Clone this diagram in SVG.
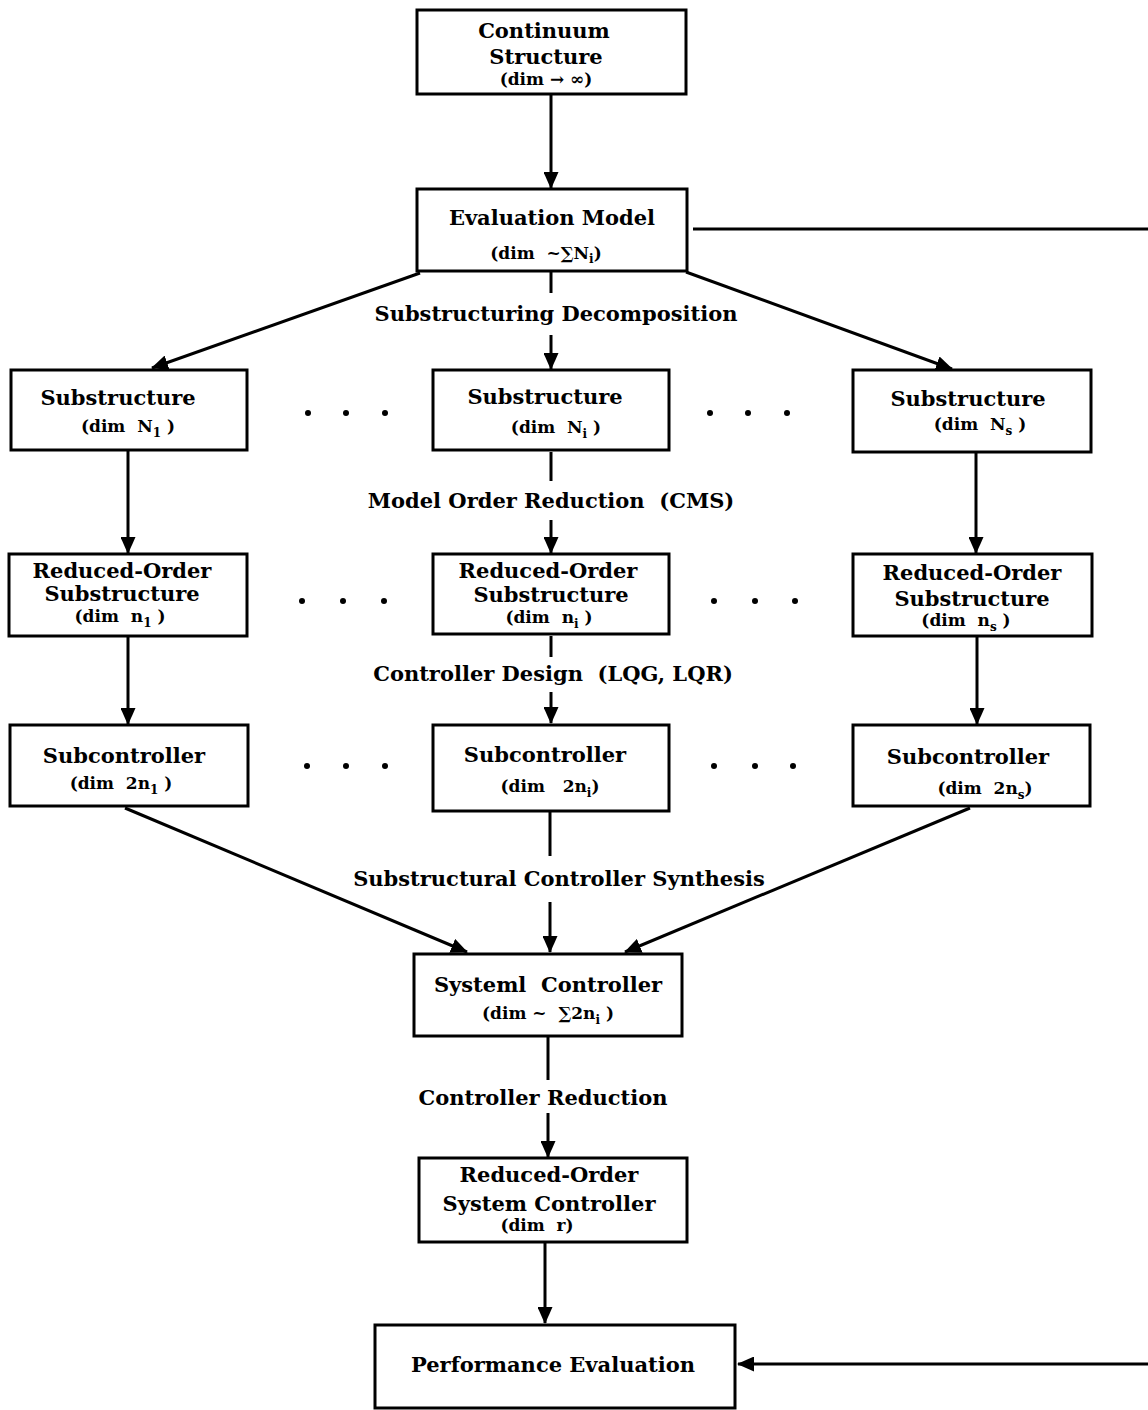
<svg xmlns="http://www.w3.org/2000/svg" width="1148" height="1410" viewBox="0 0 1148 1410">
<style>
text{font-family:"DejaVu Serif","Liberation Serif",serif;font-weight:bold;fill:#000;text-anchor:middle;white-space:pre}
.t{font-size:21px}
.d{font-size:17px}
.s{font-size:12px}
.box{fill:#fff;stroke:#000;stroke-width:3}
.ln{fill:none;stroke:#000;stroke-width:3}
</style>
<defs>
<marker id="ah" markerWidth="17" markerHeight="15" refX="16" refY="7.5" orient="auto" markerUnits="userSpaceOnUse">
<path d="M0,0 L17,7.5 L0,15 Z" fill="#000"/>
</marker>
</defs>
<g id="connectors">
<line class="ln" x1="551" y1="94" x2="551" y2="188" marker-end="url(#ah)"/>
<line class="ln" x1="693" y1="229" x2="1148" y2="229"/>
<line class="ln" x1="420" y1="273" x2="152" y2="368" marker-end="url(#ah)"/>
<line class="ln" x1="686" y1="272" x2="952" y2="369" marker-end="url(#ah)"/>
<line class="ln" x1="551" y1="271" x2="551" y2="293"/>
<line class="ln" x1="551" y1="335" x2="551" y2="369" marker-end="url(#ah)"/>
<line class="ln" x1="128" y1="450" x2="128" y2="553" marker-end="url(#ah)"/>
<line class="ln" x1="551" y1="452" x2="551" y2="481"/>
<line class="ln" x1="551" y1="520" x2="551" y2="553" marker-end="url(#ah)"/>
<line class="ln" x1="976" y1="452" x2="976" y2="553" marker-end="url(#ah)"/>
<line class="ln" x1="128" y1="636" x2="128" y2="724" marker-end="url(#ah)"/>
<line class="ln" x1="551" y1="636" x2="551" y2="657"/>
<line class="ln" x1="551" y1="692" x2="551" y2="723" marker-end="url(#ah)"/>
<line class="ln" x1="977" y1="636" x2="977" y2="724" marker-end="url(#ah)"/>
<line class="ln" x1="125" y1="808" x2="467" y2="952" marker-end="url(#ah)"/>
<line class="ln" x1="970" y1="808" x2="625" y2="952" marker-end="url(#ah)"/>
<line class="ln" x1="550" y1="812" x2="550" y2="856"/>
<line class="ln" x1="550" y1="902" x2="550" y2="952" marker-end="url(#ah)"/>
<line class="ln" x1="548" y1="1036" x2="548" y2="1080"/>
<line class="ln" x1="548" y1="1113" x2="548" y2="1157" marker-end="url(#ah)"/>
<line class="ln" x1="545" y1="1242" x2="545" y2="1323" marker-end="url(#ah)"/>
<line class="ln" x1="1148" y1="1364" x2="738" y2="1364" marker-end="url(#ah)"/>
<text class="t" x="556" y="321">Substructuring Decomposition</text>
<text class="t" x="551" y="508">Model Order Reduction  (CMS)</text>
<text class="t" x="553" y="681">Controller Design  (LQG, LQR)</text>
<text class="t" x="559" y="886">Substructural Controller Synthesis</text>
<text class="t" x="543" y="1105">Controller Reduction</text>
</g>
<g id="dots" fill="#000">
<circle cx="308" cy="413" r="3"/><circle cx="346" cy="413" r="3"/><circle cx="385" cy="413" r="3"/>
<circle cx="710" cy="413" r="3"/><circle cx="748" cy="413" r="3"/><circle cx="787" cy="413" r="3"/>
<circle cx="302" cy="601" r="3"/><circle cx="343" cy="601" r="3"/><circle cx="384" cy="601" r="3"/>
<circle cx="714" cy="601" r="3"/><circle cx="755" cy="601" r="3"/><circle cx="795" cy="601" r="3"/>
<circle cx="307" cy="766" r="3"/><circle cx="346" cy="766" r="3"/><circle cx="385" cy="766" r="3"/>
<circle cx="714" cy="766" r="3"/><circle cx="755" cy="766" r="3"/><circle cx="793" cy="766" r="3"/>
</g>
<g id="continuum">
<rect class="box" x="417" y="10" width="269" height="84"/>
<text class="t" x="544" y="38">Continuum</text>
<text class="t" x="546" y="64">Structure</text>
<text class="d" x="546" y="85">(dim → ∞)</text>
</g>
<g id="evaluation">
<rect class="box" x="417" y="189" width="270" height="82"/>
<text class="t" x="552" y="225">Evaluation Model</text>
<text class="d" x="546" y="259">(dim  ~∑N<tspan class="s" dy="4">i</tspan><tspan dy="-4">)</tspan></text>
</g>
<g id="sub1">
<rect class="box" x="11" y="370" width="236" height="80"/>
<text class="t" x="118" y="405">Substructure</text>
<text class="d" x="128" y="432">(dim  N<tspan class="s" dy="5">1</tspan><tspan dy="-5"> )</tspan></text>
</g>
<g id="subi">
<rect class="box" x="433" y="370" width="236" height="80"/>
<text class="t" x="545" y="404">Substructure</text>
<text class="d" x="556" y="433">(dim  N<tspan class="s" dy="5">i</tspan><tspan dy="-5"> )</tspan></text>
</g>
<g id="subs">
<rect class="box" x="853" y="370" width="238" height="82"/>
<text class="t" x="968" y="406">Substructure</text>
<text class="d" x="980" y="430">(dim  N<tspan class="s" dy="5">s</tspan><tspan dy="-5"> )</tspan></text>
</g>
<g id="ro1">
<rect class="box" x="9" y="554" width="238" height="82"/>
<text class="t" x="122" y="578">Reduced-Order</text>
<text class="t" x="122" y="601">Substructure</text>
<text class="d" x="120" y="622">(dim  n<tspan class="s" dy="5">1</tspan><tspan dy="-5"> )</tspan></text>
</g>
<g id="roi">
<rect class="box" x="433" y="554" width="236" height="80"/>
<text class="t" x="548" y="578">Reduced-Order</text>
<text class="t" x="551" y="602">Substructure</text>
<text class="d" x="549" y="623">(dim  n<tspan class="s" dy="5">i</tspan><tspan dy="-5"> )</tspan></text>
</g>
<g id="ros">
<rect class="box" x="853" y="554" width="239" height="82"/>
<text class="t" x="972" y="580">Reduced-Order</text>
<text class="t" x="972" y="606">Substructure</text>
<text class="d" x="966" y="626">(dim  n<tspan class="s" dy="5">s</tspan><tspan dy="-5"> )</tspan></text>
</g>
<g id="sc1">
<rect class="box" x="10" y="725" width="238" height="81"/>
<text class="t" x="124" y="763">Subcontroller</text>
<text class="d" x="121" y="789">(dim  2n<tspan class="s" dy="5">1</tspan><tspan dy="-5"> )</tspan></text>
</g>
<g id="sci">
<rect class="box" x="433" y="725" width="236" height="86"/>
<text class="t" x="545" y="762">Subcontroller</text>
<text class="d" x="550" y="792">(dim   2n<tspan class="s" dy="5">i</tspan><tspan dy="-5">)</tspan></text>
</g>
<g id="scs">
<rect class="box" x="853" y="725" width="237" height="81"/>
<text class="t" x="968" y="764">Subcontroller</text>
<text class="d" x="985" y="794">(dim  2n<tspan class="s" dy="5">s</tspan><tspan dy="-5">)</tspan></text>
</g>
<g id="system">
<rect class="box" x="414" y="954" width="268" height="82"/>
<text class="t" x="548" y="992">Systeml  Controller</text>
<text class="d" x="548" y="1019">(dim ~  ∑2n<tspan class="s" dy="5">i</tspan><tspan dy="-5"> )</tspan></text>
</g>
<g id="rosys">
<rect class="box" x="419" y="1158" width="268" height="84"/>
<text class="t" x="549" y="1182">Reduced-Order</text>
<text class="t" x="549" y="1211">System Controller</text>
<text class="d" x="537" y="1231">(dim  r)</text>
</g>
<g id="perf">
<rect class="box" x="375" y="1325" width="360" height="83"/>
<text class="t" x="553" y="1372">Performance Evaluation</text>
</g>
</svg>
